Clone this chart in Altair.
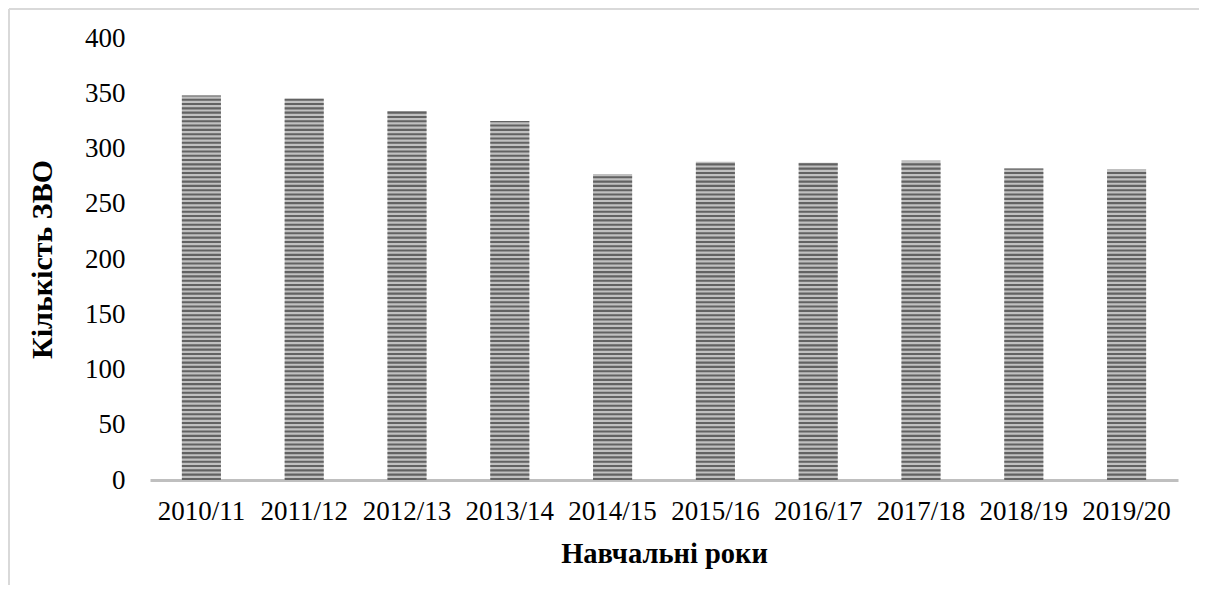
import altair as alt
import pandas as pd
import numpy as np

years = ["2010/11", "2011/12", "2012/13", "2013/14", "2014/15",
         "2015/16", "2016/17", "2017/18", "2018/19", "2019/20"]
counts = [348, 345, 334, 325, 277, 288, 287, 289, 282, 281]
y_ticks = [0, 50, 100, 150, 200, 250, 300, 350, 400]

df = pd.DataFrame({"year": years, "count": counts})

# horizontal stripe texture inside each bar (decorative fill pattern)
period = 3.9
rows = []
for yr, c in zip(years, counts):
    lo = 0.0
    while lo < c:
        rows.append({"year": yr, "lo": lo, "hi": min(lo + 1.9, c)})
        lo += period
stripes = pd.DataFrame(rows)

FONT = "Liberation Serif"
W, H = 1028, 442

xenc = alt.X("year:N", sort=years, title="Навчальні роки",
             scale=alt.Scale(paddingInner=0.62, paddingOuter=0.31),
             axis=alt.Axis(labelAngle=0, labelFont=FONT, labelFontSize=27,
                           labelColor="black", labelPadding=18,
                           ticks=False, domainColor="#bfbfbf", domainWidth=3,
                           titleFont=FONT, titleFontSize=28.5, titleFontWeight="bold",
                           titleColor="black", titlePadding=15, grid=False))
yscale = alt.Scale(domain=[0, 400])

base = alt.Chart(df).mark_bar(color="#c0c0c0").encode(
    x=xenc,
    y=alt.Y("count:Q", scale=yscale, title="Кількість ЗВО",
            axis=alt.Axis(values=y_ticks, labelFont=FONT, labelFontSize=27,
                          labelColor="black", labelPadding=25, ticks=False,
                          tickSize=0, domain=False, grid=False,
                          titleFont=FONT, titleFontSize=30, titleFontWeight="bold",
                          titleColor="black", titlePadding=27)),
)

stripe_layer = alt.Chart(stripes).mark_bar(color="#626262").encode(
    x=alt.X("year:N", sort=years),
    y=alt.Y("lo:Q", scale=yscale),
    y2="hi:Q",
)

one = df.head(1)
frame_left = alt.Chart(one).mark_rule(stroke="#d9d9d9", strokeWidth=2).encode(
    x=alt.value(-141), y=alt.value(-29), y2=alt.value(H + 110),
)
frame_top = alt.Chart(one).mark_rule(stroke="#d9d9d9", strokeWidth=2).encode(
    x=alt.value(-141), x2=alt.value(W + 30), y=alt.value(-29),
)

chart = alt.layer(base, stripe_layer, frame_left, frame_top).properties(
    width=W, height=H,
    background="white",
    autosize=alt.AutoSizeParams(type="none"),
    padding={"left": 142, "top": 30, "right": 21, "bottom": 105},
).configure_view(strokeWidth=0, stroke=None)

chart.save("out.html", embed_options={"renderer": "svg", "actions": False})
